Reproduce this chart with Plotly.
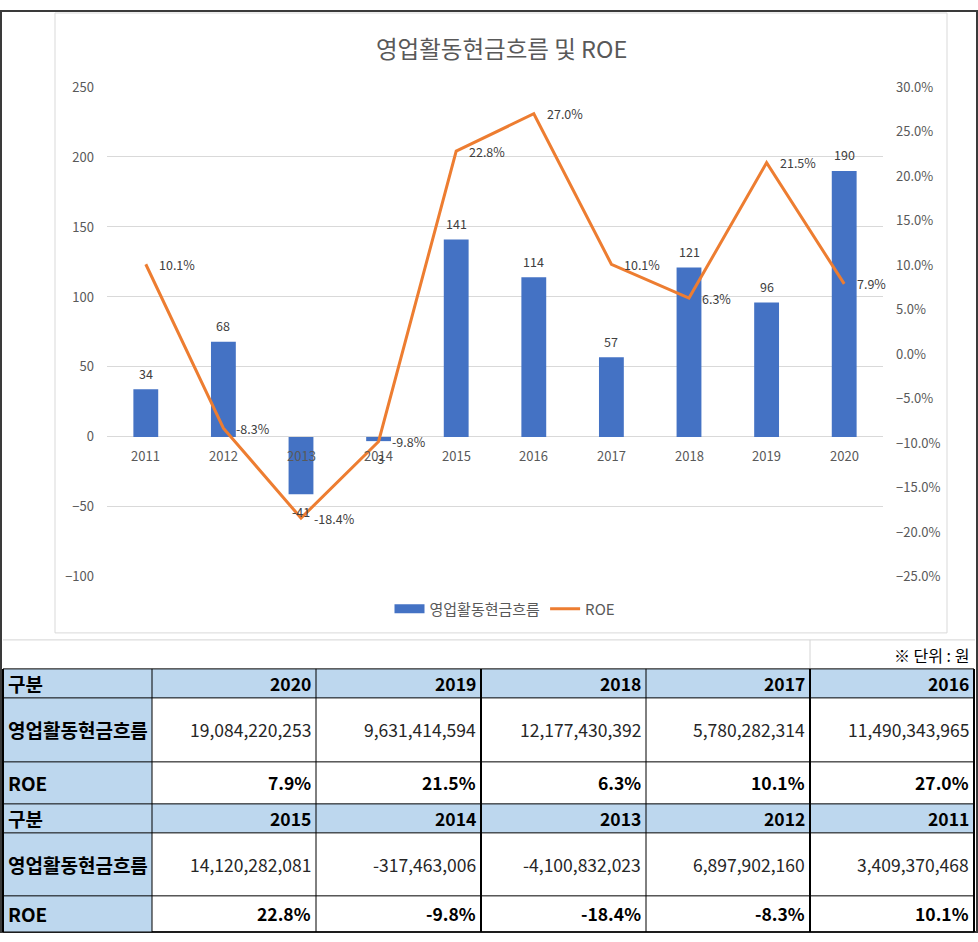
import plotly.graph_objects as go

# ---------------- data ----------------
YEARS = ["2011", "2012", "2013", "2014", "2015", "2016", "2017", "2018", "2019", "2020"]
CASHFLOW_CHART = [34, 68, -41, -3, 141, 114, 57, 121, 96, 190]          # 억원 (chart bars)
ROE_PCT = [10.1, -8.3, -18.4, -9.8, 22.8, 27.0, 10.1, 6.3, 21.5, 7.9]     # %
CASHFLOW_WON = [3409370468, 6897902160, -4100832023, -317463006, 14120282081,
                11490343965, 5780282314, 12177430392, 9631414594, 19084220253]
TITLE = "영업활동현금흐름 및 ROE"
BAR_NAME = "영업활동현금흐름"
LINE_NAME = "ROE"
ROW_HEAD = "구분"
UNIT_NOTE = "※ 단위 : 원"
LEFT_TICKS = [-100, -50, 0, 50, 100, 150, 200, 250]
RIGHT_TICKS = [-0.25, -0.20, -0.15, -0.10, -0.05, 0.0, 0.05, 0.10, 0.15, 0.20, 0.25, 0.30]

# ---------------- styles / layout geometry ----------------
W, H = 978, 942
FONT = "Noto Sans CJK KR, Noto Sans, sans-serif"
GRAY = "#595959"
BLUE = "#4472C4"
ORANGE = "#ED7D31"
HEAD_FILL = "#BDD7EE"

# vertical layout positions below are given in target-picture pixels; the page
# capture maps figure row y to about 9 + 0.98*y, so convert accordingly
V_OFF, V_SC = 9.0, 0.98


def px(x):
    return x / W


def fig_y(y):
    return min(max((y - V_OFF) / V_SC, 0.0), H)


def py(y):
    return 1 - fig_y(y) / H


PLOT_L, PLOT_R, PLOT_T, PLOT_B = 107, 883, 86, 576
TABLE_TOP_PX = 636
Y3_BOTTOM = V_OFF + V_SC * H          # picture row at the figure's bottom edge
COL_EDGES = [3, 152, 316, 481, 646, 810, 974]
THICK_COLS = {0, 3, 5, 6}
ROW_EDGES = [668, 697, 761, 803, 832, 895, 939]

fig = go.Figure()

fig.add_trace(go.Bar(
    x=YEARS, y=CASHFLOW_CHART, name=BAR_NAME, marker=dict(color=BLUE, line=dict(width=0)),
    xaxis="x", yaxis="y", hoverinfo="skip", showlegend=False))
fig.add_trace(go.Scatter(
    x=[None], y=[None], name=BAR_NAME, mode="lines", line=dict(color=BLUE, width=9),
    xaxis="x", yaxis="y", hoverinfo="skip"))
fig.add_trace(go.Scatter(
    x=YEARS, y=[v / 100 for v in ROE_PCT], name=LINE_NAME, mode="lines",
    line=dict(color=ORANGE, width=3), xaxis="x", yaxis="y2", hoverinfo="skip"))

annotations = []
annotations.append(dict(xref="paper", yref="paper", x=px(502), y=py(47), text=TITLE,
                        showarrow=False, font=dict(family=FONT, size=23.5, color=GRAY),
                        xanchor="center", yanchor="middle"))
for i, yr in enumerate(YEARS):
    annotations.append(dict(xref="x", yref="y", x=i, y=0, yshift=-19, text=yr, showarrow=False,
                            font=dict(family=FONT, size=13, color=GRAY),
                            xanchor="center", yanchor="middle"))
for i, v in enumerate(CASHFLOW_CHART):
    annotations.append(dict(xref="x", yref="y", x=i, y=v, yshift=16 if v >= 0 else -17,
                            text=str(v), showarrow=False,
                            font=dict(family=FONT, size=12.5, color="#404040"),
                            xanchor="center", yanchor="middle"))
for i, v in enumerate(ROE_PCT):
    annotations.append(dict(xref="x", yref="y2", x=i, y=v / 100, xshift=11,
                            text=f"{v:.1f}%", showarrow=False,
                            font=dict(family=FONT, size=12.5, color="#404040"),
                            xanchor="left", yanchor="middle"))

shapes = []
shapes.append(dict(type="rect", xref="paper", yref="paper", x0=px(1), x1=px(977),
                   y0=1 - 941 / H, y1=1 - 1 / H,
                   line=dict(color="#3a3a3a", width=2), layer="below"))
shapes.append(dict(type="rect", xref="paper", yref="paper", x0=px(55), x1=px(947), y0=py(632), y1=py(12),
                   line=dict(color="#D9D9D9", width=1), fillcolor="white", layer="below"))
shapes.append(dict(type="line", xref="x3", yref="y3", x0=3, x1=975, y0=639, y1=639,
                   line=dict(color="#D4D4D4", width=1)))
shapes.append(dict(type="line", xref="x3", yref="y3", x0=810, x1=810, y0=639, y1=668,
                   line=dict(color="#D4D4D4", width=1)))

top_years = YEARS[::-1][:5]
bot_years = YEARS[::-1][5:]
cf_map = dict(zip(YEARS, CASHFLOW_WON))
roe_map = dict(zip(YEARS, ROE_PCT))


def clamp_row(y):
    return min(y, Y3_BOTTOM - 1)


blocks = [(0, top_years), (3, bot_years)]
for r0, yrs in blocks:
    shapes.append(dict(type="rect", xref="x3", yref="y3", x0=COL_EDGES[0], x1=COL_EDGES[-1],
                       y0=ROW_EDGES[r0], y1=ROW_EDGES[r0 + 1], fillcolor=HEAD_FILL,
                       line=dict(width=0), layer="below"))
    shapes.append(dict(type="rect", xref="x3", yref="y3", x0=COL_EDGES[0], x1=COL_EDGES[1],
                       y0=ROW_EDGES[r0 + 1], y1=clamp_row(ROW_EDGES[r0 + 3]), fillcolor=HEAD_FILL,
                       line=dict(width=0), layer="below"))
    rows = [
        (ROW_HEAD, [f"<b>{y}</b>" for y in yrs], "#000000"),
        (BAR_NAME, [f"{cf_map[y]:,}" for y in yrs], "#262626"),
        (LINE_NAME, [f"<b>{roe_map[y]:.1f}%</b>" for y in yrs], "#000000"),
    ]
    for i, (label, vals, col) in enumerate(rows):
        r = r0 + i
        yc = (ROW_EDGES[r] + clamp_row(ROW_EDGES[r + 1])) / 2
        annotations.append(dict(xref="x3", yref="y3", x=COL_EDGES[0] + 3, y=yc,
                                text=f"<b>{label}</b>", showarrow=False, xanchor="left", yanchor="middle",
                                font=dict(family=FONT, size=19, color="#000000")))
        for c, v in enumerate(vals):
            annotations.append(dict(xref="x3", yref="y3", x=COL_EDGES[c + 2] - 3, y=yc,
                                    text=v, showarrow=False, xanchor="right", yanchor="middle",
                                    font=dict(family=FONT, size=17.5, color=col)))

for yv in ROW_EDGES:
    shapes.append(dict(type="line", xref="x3", yref="y3", x0=COL_EDGES[0], x1=COL_EDGES[-1],
                       y0=clamp_row(yv), y1=clamp_row(yv), line=dict(color="#000000", width=1)))
for i, xv in enumerate(COL_EDGES):
    shapes.append(dict(type="line", xref="x3", yref="y3", x0=xv, x1=xv,
                       y0=ROW_EDGES[0], y1=clamp_row(ROW_EDGES[-1]),
                       line=dict(color="#000000", width=2 if i in THICK_COLS else 1)))

annotations.append(dict(xref="x3", yref="y3", x=971, y=654, text=UNIT_NOTE, showarrow=False,
                        xanchor="right", yanchor="middle",
                        font=dict(family=FONT, size=16, color="#000000")))

fig.update_layout(
    width=W, height=H, margin=dict(l=0, r=0, t=0, b=0),
    paper_bgcolor="white", plot_bgcolor="rgba(0,0,0,0)",
    font=dict(family=FONT, color=GRAY, size=12),
    bargap=0.68, showlegend=True,
    legend=dict(orientation="h", x=px(505), y=py(608), xanchor="center", yanchor="middle",
                font=dict(family=FONT, size=15, color=GRAY), bgcolor="rgba(0,0,0,0)",
                itemwidth=30, traceorder="normal"),
    xaxis=dict(domain=[px(PLOT_L), px(PLOT_R)], type="category", categoryorder="array",
               categoryarray=YEARS, range=[-0.5, len(YEARS) - 0.5], autorange=False,
               showticklabels=False, showgrid=False, zeroline=False, showline=False,
               anchor="y", fixedrange=True),
    yaxis=dict(domain=[py(PLOT_B), py(PLOT_T)], range=[-100, 250], autorange=False, tickvals=LEFT_TICKS,
               gridcolor="#D9D9D9", gridwidth=1, zeroline=True, zerolinecolor="#D9D9D9",
               zerolinewidth=1, showline=False, ticks="", ticklabelstandoff=12,
               tickfont=dict(family=FONT, size=13, color=GRAY), anchor="x", fixedrange=True),
    yaxis2=dict(overlaying="y", side="right", range=[-0.25005, 0.30005], autorange=False,
                tickvals=RIGHT_TICKS, tickformat=".1%", showgrid=False, zeroline=False,
                showline=False, ticks="", ticklabelstandoff=12,
                tickfont=dict(family=FONT, size=13, color=GRAY), anchor="x", fixedrange=True),
    xaxis3=dict(domain=[0, 1], range=[0, W], autorange=False, visible=False, anchor="y3", fixedrange=True),
    yaxis3=dict(domain=[0, py(TABLE_TOP_PX)], range=[Y3_BOTTOM, TABLE_TOP_PX], autorange=False,
                visible=False, anchor="x3", fixedrange=True),
    shapes=shapes, annotations=annotations,
)

fig.write_html("out.html")
